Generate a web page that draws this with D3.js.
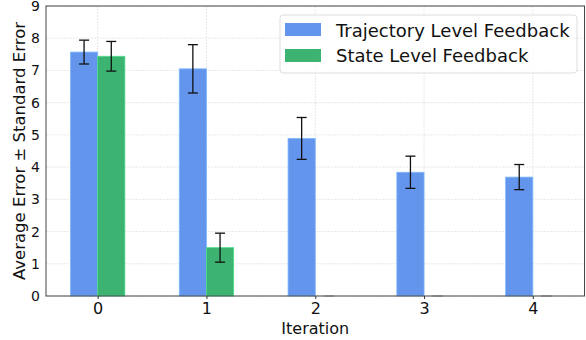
<!DOCTYPE html>
<html>
<head>
<meta charset="utf-8">
<script src="https://cdn.jsdelivr.net/npm/d3@7"></script>
<style>
  body { margin: 0; background: #fff; }
  text { font-family: "DejaVu Sans", sans-serif; fill: #111; }
</style>
</head>
<body>
<svg width="586" height="340"></svg>
<script>
var iterations = [0, 1, 2, 3, 4];
var trajMean = [7.57, 7.05, 4.89, 3.84, 3.69];
var trajErr = [0.37, 0.75, 0.65, 0.5, 0.39];
var stateMean = [7.44, 1.5, 0, 0, 0];
var stateErr = [0.46, 0.45, 0, 0, 0];
var yTicks = [0, 1, 2, 3, 4, 5, 6, 7, 8, 9];
var seriesNames = ["Trajectory Level Feedback", "State Level Feedback"];

var svg = d3.select("svg"),
    margin = {top: 6, right: 1.5, bottom: 44, left: 46},
    width = +svg.attr("width") - margin.left - margin.right,
    height = +svg.attr("height") - margin.top - margin.bottom;

var colors = ["#6495ed", "#3cb371"];
var barW = 0.25;

var x = d3.scaleLinear().domain([-0.475, 4.475]).range([0, width]);
var y = d3.scaleLinear().domain([0, 9]).range([height, 0]);

var g = svg.append("g").attr("transform", "translate(" + margin.left + "," + margin.top + ")");

// grid
g.append("g").selectAll("line.gy")
  .data(yTicks).enter().append("line")
  .attr("x1", 0).attr("x2", width)
  .attr("y1", function(d) { return y(d); }).attr("y2", function(d) { return y(d); })
  .attr("stroke", "#e2e2e2").attr("stroke-dasharray", "2,1").attr("stroke-width", 0.8);
g.append("g").selectAll("line.gx")
  .data(iterations).enter().append("line")
  .attr("y1", 0).attr("y2", height)
  .attr("x1", function(d) { return x(d); }).attr("x2", function(d) { return x(d); })
  .attr("stroke", "#e2e2e2").attr("stroke-dasharray", "2,1").attr("stroke-width", 0.8);

var series = [
  {name: seriesNames[0], mean: trajMean, err: trajErr, off: -barW / 2, color: colors[0]},
  {name: seriesNames[1], mean: stateMean, err: stateErr, off: barW / 2, color: colors[1]}
];

series.forEach(function(s) {
  var rows = iterations.map(function(it, i) { return {it: it, m: s.mean[i], e: s.err[i]}; });
  g.append("g").selectAll("rect")
    .data(rows).enter().append("rect")
    .attr("x", function(d) { return x(d.it + s.off - barW / 2); })
    .attr("width", x(barW) - x(0))
    .attr("y", function(d) { return y(d.m); })
    .attr("height", function(d) { return y(0) - y(d.m); })
    .attr("fill", s.color)
    .attr("stroke", d3.color(s.color).brighter(0.6))
    .attr("stroke-width", 0.8);

  var eb = g.append("g").selectAll("g")
    .data(rows).enter().append("g")
    .attr("stroke", function(d) { return d.e > 0 ? "#111" : "#bbb"; })
    .attr("stroke-width", 1.3);
  eb.append("line")
    .attr("x1", function(d) { return x(d.it + s.off); })
    .attr("x2", function(d) { return x(d.it + s.off); })
    .attr("y1", function(d) { return y(d.m - d.e); })
    .attr("y2", function(d) { return y(d.m + d.e); });
  [1, -1].forEach(function(sg) {
    eb.append("line")
      .attr("x1", function(d) { return x(d.it + s.off) - 5; })
      .attr("x2", function(d) { return x(d.it + s.off) + 5; })
      .attr("y1", function(d) { return y(d.m + sg * d.e); })
      .attr("y2", function(d) { return y(d.m + sg * d.e); });
  });
});

// axes
var xAxis = g.append("g").attr("transform", "translate(0," + height + ")")
  .call(d3.axisBottom(x).tickValues(iterations).tickFormat(d3.format("d")).tickSize(3).tickPadding(4));
xAxis.selectAll("text").style("font-size", "16px");
var yAxis = g.append("g")
  .call(d3.axisLeft(y).tickValues(yTicks).tickSize(0).tickPadding(6));
yAxis.selectAll("text").style("font-size", "14px");
[xAxis, yAxis].forEach(function(a) {
  a.select(".domain").remove();
  a.selectAll("line").attr("stroke", "#333");
});

g.append("rect").attr("width", width).attr("height", height)
  .attr("fill", "none").attr("stroke", "#444").attr("stroke-width", 1);

svg.append("text")
  .attr("x", margin.left + width / 2).attr("y", 334)
  .attr("text-anchor", "middle").style("font-size", "16px").text("Iteration");
svg.append("text")
  .attr("transform", "translate(25," + (margin.top + height / 2) + ") rotate(-90)")
  .attr("text-anchor", "middle").style("font-size", "16.5px")
  .text("Average Error ± Standard Error");

// legend
var leg = svg.append("g").attr("transform", "translate(280,15)");
leg.append("rect").attr("width", 297).attr("height", 58).attr("rx", 3)
  .attr("fill", "#fff").attr("fill-opacity", 0.8).attr("stroke", "#ddd");
series.forEach(function(s, i) {
  leg.append("rect").attr("x", 5).attr("y", 8 + i * 26).attr("width", 36).attr("height", 13)
    .attr("fill", s.color);
  leg.append("text").attr("x", 56).attr("y", 22 + i * 25)
    .style("font-size", "18px").text(s.name);
});
</script>
</body>
</html>
